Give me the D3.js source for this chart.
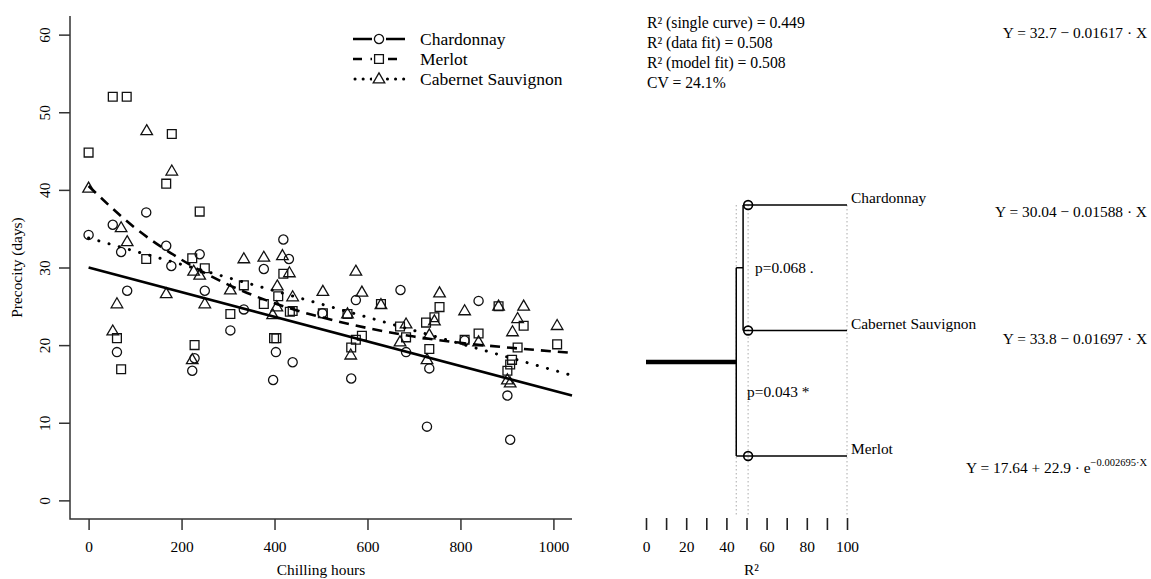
<!DOCTYPE html>
<html lang="en">
<head>
  <meta charset="UTF-8">
  <title>Precocity vs chilling hours</title>
  <style>
    body, html { margin: 0; padding: 0; background: #fff; }
    svg { display: block; }
    text { font-family: "Liberation Serif", "Times New Roman", serif; font-size: 15.4px; fill: #000; }
    .big { font-size: 17.5px; }
    .stat { font-size: 15.7px; }
  </style>
</head>
<body>
  <svg id="svg" width="1151" height="579"></svg>

  <script src="https://d3js.org/d3.v7.min.js"></script>
  <script>
    const chardonnay = [
      [0, 34.2], [52, 35.5], [70, 32.0], [83, 27.0], [61, 19.1], [124, 37.1], [167, 32.8],
      [178, 30.2], [223, 16.7], [228, 18.3], [239, 31.7], [250, 27.0], [305, 21.9], [334, 24.6],
      [377, 29.8], [397, 15.5], [403, 19.1], [419, 33.6], [431, 31.1], [439, 17.8], [503, 24.1],
      [565, 15.7], [575, 25.8], [671, 27.1], [683, 19.1], [728, 9.5], [733, 17.0], [809, 20.6],
      [839, 25.7], [901, 13.5], [907, 7.8]
    ]
    const merlot = [
      [0, 44.8], [52, 52.0], [82, 52.0], [179, 47.2], [167, 40.8], [239, 37.2], [124, 31.1],
      [223, 31.2], [250, 29.9], [61, 20.9], [70, 16.9], [228, 20.0], [305, 24.0], [334, 27.7],
      [377, 25.3], [399, 20.9], [404, 20.9], [408, 26.3], [419, 29.2], [433, 24.3], [439, 24.4],
      [504, 24.1], [557, 24.0], [565, 19.7], [575, 20.7], [588, 21.2], [629, 25.3], [670, 22.4],
      [683, 21.0], [726, 22.9], [733, 19.5], [744, 23.6], [755, 24.9], [809, 20.7], [839, 21.5],
      [882, 25.0], [901, 16.7], [907, 17.5], [911, 18.1], [923, 19.7], [936, 22.5], [1008, 20.1]
    ]
    const cabernet = [
      [0, 40.2], [125, 47.6], [179, 42.4], [70, 35.1], [83, 33.3], [61, 25.3], [52, 21.8],
      [167, 26.6], [226, 29.5], [239, 29.0], [250, 25.3], [223, 18.1], [305, 27.1], [334, 31.1],
      [377, 31.3], [417, 31.5], [432, 29.3], [406, 27.6], [439, 26.2], [396, 23.9], [405, 24.9],
      [504, 26.9], [557, 24.0], [564, 18.7], [575, 29.5], [588, 26.8], [629, 25.2], [670, 20.4],
      [683, 22.7], [728, 18.1], [733, 21.3], [744, 23.1], [755, 26.7], [809, 24.4], [839, 20.4],
      [882, 25.0], [901, 15.5], [907, 15.1], [912, 21.7], [923, 23.4], [936, 25.0], [1008, 22.5]
    ]

    // fitted curves as they appear in the figure
    const chardonnayFit = [[0, 30.0], [1040, 13.5]]
    const cabernetFit = [[0, 33.8], [1040, 16.1]]
    const merlotFit = [
      [0, 40.5], [100, 35.1], [200, 31.0], [300, 27.8], [400, 25.4], [500, 23.6],
      [600, 22.2], [700, 21.1], [800, 20.3], [900, 19.7], [1040, 19.0]
    ]

    const xTicks = [0, 200, 400, 600, 800, 1000]
    const yTicks = [0, 10, 20, 30, 40, 50, 60]

    // right panel: R² summary, cluster tree, per-group equations
    const statLines = [
      'R² (single curve) = 0.449',
      'R² (data fit) = 0.508',
      'R² (model fit) = 0.508',
      'CV = 24.1%'
    ]
    const leaves = ['Chardonnay', 'Cabernet Sauvignon', 'Merlot']
    const rootR2 = 44.9
    const clusterR2 = 48.3
    const leafR2 = 50.8
    const pValues = ['p=0.068 .', 'p=0.043 *']
    const r2Ticks = [0, 10, 20, 30, 40, 50, 60, 70, 80, 90, 100]
    const equations = [
      'Y = 32.7 \u2212 0.01617 \u00b7 X',
      'Y = 30.04 \u2212 0.01588 \u00b7 X',
      'Y = 33.8 \u2212 0.01697 \u00b7 X'
    ]

    const svg = d3.select('#svg')

    // ---------- left scatter ----------
    const x = d3.scaleLinear().domain([-40, 1040]).range([70, 572])
    const y = d3.scaleLinear().domain([-2.4, 62.4]).range([519, 16])

    const xAxis = svg.append('g')
      .attr('transform', 'translate(0,519)')
      .call(d3.axisBottom(x).tickValues(xTicks).tickSize(11).tickFormat(d3.format('d')))
    xAxis.select('.domain').remove()
    xAxis.selectAll('line').attr('stroke', '#333').attr('stroke-width', 1.5)
    xAxis.selectAll('text').attr('font-size', null).attr('font-family', null)
      .attr('y', 28).attr('dy', '0.35em')

    const yAxis = svg.append('g')
      .attr('transform', 'translate(70,0)')
      .call(d3.axisLeft(y).tickValues(yTicks).tickSize(11))
    yAxis.select('.domain').remove()
    yAxis.selectAll('line').attr('stroke', '#333').attr('stroke-width', 1.5)
    yAxis.selectAll('text').attr('font-size', null).attr('font-family', null)
      .attr('x', 0).attr('y', -25).attr('dy', '0.35em')
      .attr('text-anchor', 'middle')
      .attr('transform', 'rotate(-90)')

    // L-shaped frame
    svg.append('path')
      .attr('d', `M${x.range()[0]},${y.range()[1]}V${y.range()[0]}H${x.range()[1]}`)
      .attr('fill', 'none').attr('stroke', '#333').attr('stroke-width', 1.5)

    svg.append('text')
      .text('Chilling hours')
      .attr('x', (x.range()[0] + x.range()[1]) / 2).attr('y', 575)
      .attr('text-anchor', 'middle')
    svg.append('text')
      .text('Precocity (days)')
      .attr('transform', `translate(22,${(y.range()[0] + y.range()[1]) / 2}) rotate(-90)`)
      .attr('text-anchor', 'middle')

    const line = d3.line().x(d => x(d[0])).y(d => y(d[1]))
    const curve = d3.line().x(d => x(d[0])).y(d => y(d[1])).curve(d3.curveMonotoneX)

    const series = [
      { name: 'Chardonnay', pts: chardonnay, fit: chardonnayFit, gen: line, dash: null, cap: 'butt', shape: 'circle' },
      { name: 'Merlot', pts: merlot, fit: merlotFit, gen: curve, dash: '10,7', cap: 'butt', shape: 'square' },
      { name: 'Cabernet Sauvignon', pts: cabernet, fit: cabernetFit, gen: line, dash: '0.1,10.5', cap: 'round', shape: 'triangle' }
    ]

    const symbolPath = {
      circle: 'M4.6,0A4.6,4.6 0 1,1 -4.6,0A4.6,4.6 0 1,1 4.6,0Z',
      square: 'M-4.4,-4.4H4.4V4.4H-4.4Z',
      triangle: 'M0,-6.2L5.8,3.8H-5.8Z'
    }

    const drawSymbol = (sel, shape) => sel
      .attr('d', symbolPath[shape])
      .attr('fill', 'none')
      .attr('stroke', '#111')
      .attr('stroke-width', 1.3)

    series.forEach(s => {
      svg.append('g')
        .selectAll('path')
        .data(s.pts)
        .join('path')
        .attr('transform', d => `translate(${x(d[0])},${y(d[1])})`)
        .call(drawSymbol, s.shape)
    })

    series.forEach(s => {
      svg.append('path')
        .attr('d', s.gen(s.fit))
        .attr('fill', 'none')
        .attr('stroke', '#000')
        .attr('stroke-width', s.cap === 'round' ? 3 : 2.6)
        .attr('stroke-dasharray', s.dash)
        .attr('stroke-linecap', s.cap)
    })

    // legend
    const legend = svg.append('g')
      .selectAll('g')
      .data(series)
      .join('g')
      .attr('transform', (d, i) => `translate(353,${39 + i * 20})`)
    legend.append('line')
      .attr('x1', d => d.cap === 'round' ? 2 : 0).attr('x2', 52)
      .attr('stroke', '#000').attr('stroke-width', d => d.cap === 'round' ? 3 : 2.6)
      .attr('stroke-dasharray', d => d.dash ? (d.shape === 'square' ? '9,8.5' : '0.1,8') : null)
      .attr('stroke-linecap', d => d.cap)
    legend.append('rect')
      .attr('x', 19).attr('y', -7).attr('width', 14).attr('height', 14)
      .attr('fill', '#fff')
    legend.append('path')
      .attr('transform', 'translate(26,0)')
      .each(function (d) { d3.select(this).call(drawSymbol, d.shape) })
    legend.append('text')
      .attr('class', 'big')
      .text(d => d.name)
      .attr('x', 67).attr('dy', '0.35em')

    // ---------- right panel ----------
    const r2 = d3.scaleLinear().domain([0, 100]).range([646, 847])
    const leafY = d3.scalePoint().domain(leaves).range([205, 456])

    svg.append('g')
      .selectAll('text')
      .data(statLines)
      .join('text')
      .attr('class', 'stat')
      .text(d => d)
      .attr('x', 647)
      .attr('y', (d, i) => 23 + i * 19.8)
      .attr('dy', '0.35em')

    // R² axis (ticks only)
    const r2Axis = svg.append('g')
      .attr('transform', 'translate(0,518)')
      .call(d3.axisBottom(r2).tickValues(r2Ticks).tickSize(12)
        .tickFormat(d => d % 20 === 0 ? d : ''))
    r2Axis.select('.domain').remove()
    r2Axis.selectAll('line').attr('stroke', '#222').attr('stroke-width', 1.6)
    r2Axis.selectAll('text').attr('font-size', null).attr('font-family', null)
      .attr('y', 29).attr('dy', '0.35em')
    svg.append('text')
      .text('R²')
      .attr('x', r2(50) + 5).attr('y', 575)
      .attr('text-anchor', 'middle')

    // dotted guides
    svg.append('g')
      .selectAll('line')
      .data([rootR2, leafR2, 100])
      .join('line')
      .attr('x1', d => r2(d)).attr('x2', d => r2(d))
      .attr('y1', leafY('Chardonnay')).attr('y2', 517)
      .attr('stroke', '#aaa').attr('stroke-width', 1)
      .attr('stroke-dasharray', '1.5,2.5')

    const clusterY = (leafY('Chardonnay') + leafY('Cabernet Sauvignon')) / 2
    const rootY = (clusterY + leafY('Merlot')) / 2

    const tree = svg.append('g').attr('fill', 'none').attr('stroke', '#000').attr('stroke-width', 1.5)
    tree.append('path')
      .attr('d', `M${r2(clusterR2)},${leafY('Chardonnay')}V${leafY('Cabernet Sauvignon')}` +
        `M${r2(rootR2)},${clusterY}H${r2(clusterR2)}` +
        `M${r2(rootR2)},${clusterY}V${leafY('Merlot')}`)
    tree.selectAll('.leaf')
      .data(leaves)
      .join('line')
      .attr('class', 'leaf')
      .attr('x1', d => d === 'Merlot' ? r2(rootR2) : r2(clusterR2))
      .attr('x2', r2(100))
      .attr('y1', d => leafY(d)).attr('y2', d => leafY(d))
    tree.selectAll('circle')
      .data(leaves)
      .join('circle')
      .attr('cx', r2(leafR2)).attr('cy', d => leafY(d)).attr('r', 4.4)
      .attr('stroke-width', 1.6)
    svg.append('line')
      .attr('x1', r2(0)).attr('x2', r2(rootR2))
      .attr('y1', rootY).attr('y2', rootY)
      .attr('stroke', '#000').attr('stroke-width', 4.5)

    svg.append('g')
      .selectAll('text')
      .data(leaves)
      .join('text')
      .text(d => d)
      .attr('x', 851)
      .attr('y', d => leafY(d) - 7)
      .attr('dy', '0.35em')

    svg.append('text').text(pValues[0])
      .attr('x', 755).attr('y', clusterY).attr('dy', '0.35em')
    svg.append('text').text(pValues[1])
      .attr('x', 747).attr('y', rootY + 30).attr('dy', '0.35em')

    // equations
    const eqY = [33, leafY('Chardonnay') + 7, leafY('Cabernet Sauvignon') + 8]
    svg.append('g')
      .selectAll('text')
      .data(equations)
      .join('text')
      .text(d => d)
      .attr('x', 1147)
      .attr('y', (d, i) => eqY[i])
      .attr('dy', '0.35em')
      .attr('text-anchor', 'end')

    const expEq = svg.append('text')
      .attr('x', 1147).attr('y', leafY('Merlot') + 12).attr('dy', '0.35em')
      .attr('text-anchor', 'end')
    expEq.append('tspan').text('Y = 17.64 + 22.9 \u00b7 e')
    expEq.append('tspan').text('\u22120.002695\u00b7X')
      .attr('font-size', '10.5px').attr('dy', '-0.7em')
  </script>
</body>
</html>
